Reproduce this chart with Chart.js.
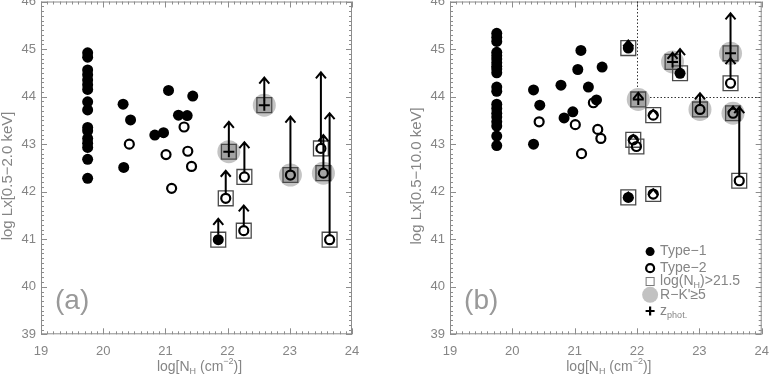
<!DOCTYPE html>
<html>
<head>
<meta charset="utf-8">
<script src="https://cdn.jsdelivr.net/npm/chart.js@4.4.1/dist/chart.umd.min.js"></script>
<style>
  body { margin: 0; background: #fff; }
  #wrap { position: relative; width: 769px; height: 375px; }
  canvas { position: absolute; top: 0; }
  #panel-a { left: 0; }
  #panel-b { left: 385px; }
</style>
</head>
<body>
<div id="wrap">
  <canvas id="panel-a" width="385" height="375"></canvas>
  <canvas id="panel-b" width="384" height="375"></canvas>
</div>
<script>
"use strict";

// Lx vs log NH, soft band (a) and full band (b).
// kind: t1 = Type-1 (filled dot), t2 = Type-2 (open ring), ph = photo-z (cross).
// Absorbed sources (log NH > 21.5) get a box, R-K' >= 5 a grey disc (red = 1),
// and an arrow up to lim where a lower limit was plotted.

const X_MIN = 19, X_MAX = 24, Y_MIN = 39, Y_MAX = 46;
const TXT = "#858585";
const AXIS = "#8c8c8c";
const FONT = "'Liberation Sans', Arial, sans-serif";

// ---- panel (a): 0.5-2.0 keV ----
const A_T1_X = [19.75, 19.75, 19.75, 19.75, 19.75, 19.75, 19.75, 19.75, 19.75, 19.75,
  19.75, 19.75, 19.75, 19.75, 19.75, 19.75, 20.32, 20.44, 20.33, 20.83, 20.97, 21.05,
  21.21, 21.35, 21.44];
const A_T1_Y = [44.92, 44.83, 44.56, 44.46, 44.35, 44.25, 44.15, 43.89, 43.72, 43.35,
  43.28, 43.12, 43.02, 42.93, 42.68, 42.28, 43.84, 43.51, 42.51, 43.19, 43.24, 44.13,
  43.61, 43.60, 44.01];
const A_T2_X = [20.42, 21.01, 21.30, 21.36, 21.42, 21.10];
const A_T2_Y = [43.00, 42.78, 43.36, 42.85, 42.53, 42.07];

const A_ABS_X = [21.85, 21.97, 22.26, 22.27, 22.02, 22.59, 23.01, 23.50, 23.54, 23.64];
const A_ABS_Y = [40.99, 41.86, 41.18, 42.31, 42.84, 43.82, 42.35, 42.91, 42.39, 40.99];
const A_ABS_LIM = [41.43, 42.44, 41.71, 43.04, 43.47, 44.40, 43.58, 44.51, 43.19, 43.65];
const A_ABS_KIND = ["t1", "t2", "t2", "t2", "ph", "ph", "t2", "t2", "t2", "t2"];
const A_ABS_RED = [0, 0, 0, 0, 1, 1, 1, 0, 1, 0];

// ---- panel (b): 0.5-10.0 keV ----
const B_T1_X = [19.75, 19.75, 19.75, 19.75, 19.75, 19.75, 19.75, 19.75, 19.75, 19.75,
  19.75, 19.75, 19.75, 19.75, 19.75, 19.75, 19.75, 19.75, 19.75, 19.75, 20.34, 20.44,
  20.34, 20.78, 20.83, 20.97, 21.05, 21.10, 21.22, 21.35, 21.44];
const B_T1_Y = [45.33, 45.25, 45.16, 44.93, 44.86, 44.79, 44.71, 44.64, 44.58, 44.50,
  44.20, 44.11, 43.84, 43.75, 43.65, 43.57, 43.47, 43.38, 43.17, 42.97, 44.14, 43.82,
  43.00, 44.24, 43.55, 43.68, 44.57, 44.97, 44.20, 43.93, 44.62];
const B_T2_X = [20.43, 21.01, 21.30, 21.37, 21.42, 21.11];
const B_T2_Y = [43.47, 43.41, 43.87, 43.31, 43.12, 42.80];

const B_ABS_X = [21.86, 21.86, 22.02, 22.26, 21.94, 21.99, 22.26, 22.57, 22.69, 23.01,
  23.54, 23.64, 23.50, 23.50];
const B_ABS_Y = [45.02, 41.88, 43.94, 43.61, 43.09, 42.95, 41.95, 44.73, 44.49, 43.73,
  43.65, 42.23, 44.91, 44.28];
const B_ABS_LIM = [45.18, 41.98, 44.08, 43.72, 43.19, null, 42.05, 44.92, 45.00, 44.07,
  43.79, 43.78, 45.75, 44.81];
const B_ABS_KIND = ["t1", "t1", "ph", "t2", "t2", "t2", "t2", "ph", "t1", "t2", "t2",
  "t2", "ph", "t2"];
const B_ABS_RED = [0, 0, 1, 0, 0, 0, 0, 1, 0, 1, 1, 0, 1, 0];

// quadrant marking in (b)
const B_DIV_NH = 22, B_DIV_LX = 44;

// legend of (b), anchored in data units
const LEG_X = 22.21;
const LEG_Y = [40.74, 40.39, 40.11, 39.83, 39.49];
const LEG_KIND = ["t1", "t2", "box", "red", "ph"];
const LEG_TEXT = [
  [["Type\u22121", ""]],
  [["Type\u22122", ""]],
  [["log(N", ""], ["H", "sub"], [")>21.5", ""]],
  [["R\u2212K'\u22655", ""]],
  [["z", ""], ["phot.", "sub"]],
];

const X_TITLE = [["log[N", ""], ["H", "sub"], [" (cm", ""], ["\u22122", "sup"], [")]", ""]];

const $ = (id) => document.getElementById(id);

function pts(xs, ys) {
  return xs.map((x, i) => ({ x, y: ys[i] }));
}

// Draw text made of plain / sub / sup pieces. Returns width.
function richWidth(ctx, segs, size) {
  let w = 0;
  segs.forEach(([t, m]) => {
    ctx.font = `${m ? Math.round(size * 0.62) : size}px ${FONT}`;
    w += ctx.measureText(t).width;
  });
  return w;
}

function drawRich(ctx, segs, x, y, size) {
  ctx.textAlign = "left";
  ctx.textBaseline = "middle";
  segs.forEach(([t, m]) => {
    const s = m ? Math.round(size * 0.62) : size;
    ctx.font = `${s}px ${FONT}`;
    const dy = m === "sub" ? size * 0.32 : m === "sup" ? -size * 0.38 : 0;
    ctx.fillText(t, x, y + dy);
    x += ctx.measureText(t).width;
  });
}

function marker(ctx, kind, x, y, small) {
  ctx.save();
  if (kind === "t1") {
    ctx.fillStyle = "#000";
    ctx.beginPath(); ctx.arc(x, y, small ? 4.5 : 5.5, 0, Math.PI * 2); ctx.fill();
  } else if (kind === "t2") {
    ctx.strokeStyle = "#000"; ctx.lineWidth = 2.2;
    ctx.beginPath(); ctx.arc(x, y, 4, 0, Math.PI * 2); ctx.stroke();
  } else if (kind === "box") {
    ctx.strokeStyle = "#777"; ctx.lineWidth = 1;
    ctx.strokeRect(x - 4, y - 4, 8, 8);
  } else if (kind === "red") {
    ctx.fillStyle = "#c2c2c2";
    ctx.beginPath(); ctx.arc(x, y, 8, 0, Math.PI * 2); ctx.fill();
  } else if (kind === "ph") {
    ctx.strokeStyle = "#000"; ctx.lineWidth = 2.2;
    ctx.beginPath();
    ctx.moveTo(x - 4.5, y); ctx.lineTo(x + 4.5, y);
    ctx.moveTo(x, y - 4.5); ctx.lineTo(x, y + 4.5);
    ctx.stroke();
  }
  ctx.restore();
}

// frame, inward ticks on all four sides, extra lines and text
const decor = {
  id: "decor",
  beforeDatasetsDraw(chart, args, opts) {
    const { ctx, chartArea: a, scales: { x, y } } = chart;
    ctx.save();
    ctx.strokeStyle = AXIS;
    ctx.lineWidth = 1;
    ctx.strokeRect(a.left + 0.5, a.top + 0.5, a.right - a.left - 1, a.bottom - a.top - 1);
    ctx.beginPath();
    for (let i = X_MIN * 10; i <= X_MAX * 10; i++) {
      const px = Math.round(x.getPixelForValue(i / 10)) + 0.5;
      const len = i % 10 === 0 ? 6 : 3;
      ctx.moveTo(px, a.bottom); ctx.lineTo(px, a.bottom - len);
      ctx.moveTo(px, a.top); ctx.lineTo(px, a.top + len);
    }
    for (let i = Y_MIN * 10; i <= Y_MAX * 10; i++) {
      const py = Math.round(y.getPixelForValue(i / 10)) + 0.5;
      const len = i % 10 === 0 ? 6 : 3;
      ctx.moveTo(a.left, py); ctx.lineTo(a.left + len, py);
      ctx.moveTo(a.right, py); ctx.lineTo(a.right - len, py);
    }
    ctx.stroke();

    if (opts.divider) {
      const dx = Math.round(x.getPixelForValue(B_DIV_NH)) + 0.5;
      const dy = Math.round(y.getPixelForValue(B_DIV_LX)) + 0.5;
      ctx.strokeStyle = "#333";
      ctx.setLineDash([1.5, 2]);
      ctx.beginPath();
      ctx.moveTo(dx, a.top); ctx.lineTo(dx, dy); ctx.lineTo(a.right, dy);
      ctx.stroke();
      ctx.setLineDash([]);
    }

    // titles and panel tag
    ctx.fillStyle = TXT;
    const xw = richWidth(ctx, X_TITLE, 14);
    drawRich(ctx, X_TITLE, (a.left + a.right) / 2 + 3 - xw / 2, 367, 14);

    ctx.save();
    ctx.translate(opts.yTitleX, (a.top + a.bottom) / 2 + 8);
    ctx.rotate(-Math.PI / 2);
    ctx.font = `15px ${FONT}`;
    ctx.textAlign = "center";
    ctx.textBaseline = "middle";
    ctx.fillText(opts.yTitle, 0, 0);
    ctx.restore();

    ctx.fillStyle = "#999";
    ctx.font = `28px ${FONT}`;
    ctx.textAlign = "center";
    ctx.textBaseline = "middle";
    ctx.fillText(opts.tag, x.getPixelForValue(19.5), y.getPixelForValue(39.7));
    ctx.restore();
  },
  afterDatasetsDraw(chart, args, opts) {
    const { ctx, scales: { x, y } } = chart;
    ctx.save();
    ctx.strokeStyle = "#000";
    ctx.lineWidth = 2;
    ctx.lineCap = "butt";
    opts.abs.forEach((p) => {
      if (p.lim == null) return;
      const px = x.getPixelForValue(p.x);
      const py = y.getPixelForValue(p.y) - 5;
      const pt = y.getPixelForValue(p.lim);
      ctx.beginPath();
      if (pt < py) { ctx.moveTo(px, py); ctx.lineTo(px, pt); }
      ctx.moveTo(px - 5, pt + 6); ctx.lineTo(px, pt); ctx.lineTo(px + 5, pt + 6);
      ctx.stroke();
    });
    ctx.restore();

    if (opts.legend) {
      ctx.save();
      LEG_Y.forEach((ly, i) => {
        const px = x.getPixelForValue(LEG_X);
        const py = y.getPixelForValue(ly);
        marker(ctx, LEG_KIND[i], px, py, true);
        ctx.fillStyle = TXT;
        drawRich(ctx, LEG_TEXT[i], px + 10, py, 14);
      });
      ctx.restore();
    }
  },
};

function makePanel(id, P) {
  const abs = P.absX.map((x, i) => ({
    x, y: P.absY[i], lim: P.absLim[i], kind: P.absKind[i], red: !!P.absRed[i],
  }));
  const ofKind = (k) => abs.filter((a) => a.kind === k);
  const tickFont = { family: FONT, size: 13 };

  return new Chart($(id), {
    type: "scatter",
    data: {
      datasets: [
        { label: "R-K", data: abs.filter((a) => a.red), pointRadius: 11.5,
          pointBackgroundColor: "#c4c4c4", pointBorderWidth: 0, order: 5 },
        { label: "box", data: abs, pointStyle: "rect", pointRadius: 10.5,
          pointBackgroundColor: abs.map((a) => (a.red ? "#a4a4a4" : "rgba(255,255,255,0)")),
          pointBorderColor: "#4a4a4a", pointBorderWidth: 1.3, order: 4 },
        { label: "Type-1", data: pts(P.t1x, P.t1y).concat(ofKind("t1")), pointRadius: 5.5,
          pointBackgroundColor: "#000", pointBorderWidth: 0, order: 3 },
        { label: "Type-2", data: pts(P.t2x, P.t2y).concat(ofKind("t2")), pointRadius: 4.5,
          pointBackgroundColor: "rgba(0,0,0,0)", pointBorderColor: "#000",
          pointBorderWidth: 2.2, order: 2 },
        { label: "zphot", data: ofKind("ph"), pointStyle: "cross", pointRadius: 5.5,
          pointBorderColor: "#000", pointBorderWidth: 2, order: 1 },
      ],
    },
    options: {
      responsive: false,
      animation: false,
      events: [],
      layout: { autoPadding: false, padding: { top: 1.5, right: P.right, left: 0, bottom: 0 } },
      plugins: {
        legend: { display: false },
        tooltip: { enabled: false },
        decor: { abs, yTitle: P.yTitle, yTitleX: P.yTitleX, tag: P.tag,
                 legend: P.legend, divider: P.divider },
      },
      scales: {
        x: {
          type: "linear", min: X_MIN, max: X_MAX, position: "bottom",
          grid: { display: false, drawTicks: false }, border: { display: false },
          ticks: { stepSize: 1, color: TXT, font: tickFont, padding: 9, maxRotation: 0 },
          afterFit: (s) => { s.height = 375 - 334.3; s.paddingLeft = 0; s.paddingRight = 0; },
        },
        y: {
          type: "linear", min: Y_MIN, max: Y_MAX,
          grid: { display: false, drawTicks: false }, border: { display: false },
          ticks: { stepSize: 1, color: TXT, font: tickFont, padding: 5 },
          afterFit: (s) => { s.width = P.left; s.paddingTop = 0; s.paddingBottom = 0; },
        },
      },
    },
    plugins: [decor],
  });
}

makePanel("panel-a", {
  t1x: A_T1_X, t1y: A_T1_Y, t2x: A_T2_X, t2y: A_T2_Y,
  absX: A_ABS_X, absY: A_ABS_Y, absLim: A_ABS_LIM, absKind: A_ABS_KIND, absRed: A_ABS_RED,
  yTitle: "log Lx[0.5\u22122.0 keV]", yTitleX: 7.5, tag: "(a)",
  left: 41, right: 33, legend: false, divider: false,
});

makePanel("panel-b", {
  t1x: B_T1_X, t1y: B_T1_Y, t2x: B_T2_X, t2y: B_T2_Y,
  absX: B_ABS_X, absY: B_ABS_Y, absLim: B_ABS_LIM, absKind: B_ABS_KIND, absRed: B_ABS_RED,
  yTitle: "log Lx[0.5\u221210.0 keV]", yTitleX: 32, tag: "(b)",
  left: 65, right: 7.3, legend: true, divider: true,
});
</script>
</body>
</html>
